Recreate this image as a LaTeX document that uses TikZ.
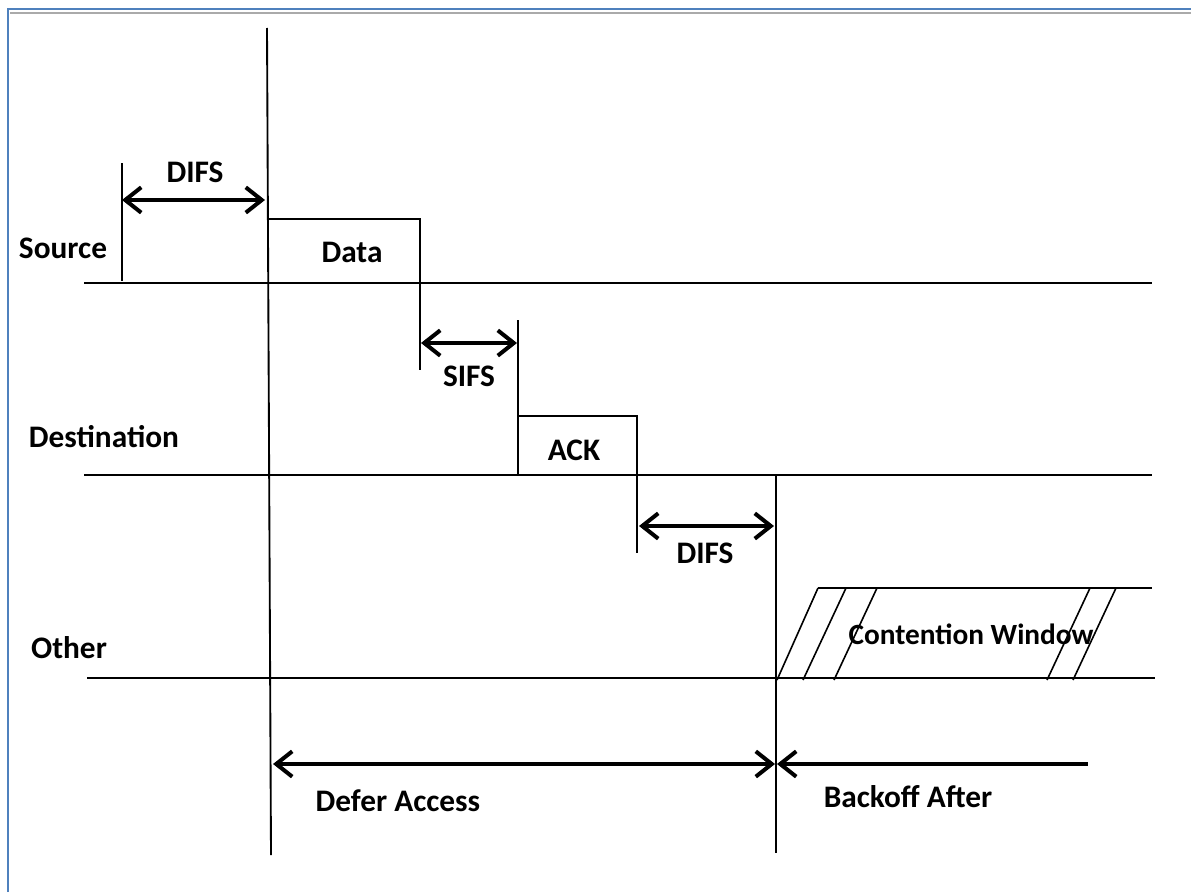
\documentclass[tikz,border=0pt]{standalone}
\usepackage{fontspec}
\setmainfont{Carlito}
\usetikzlibrary{arrows.meta}
\definecolor{frameblue}{RGB}{79,129,189}
\definecolor{framegray}{RGB}{170,170,170}
\begin{document}
\begin{tikzpicture}[x=0.75pt,y=-0.75pt,
  lbl/.style={font=\fontsize{23.5}{28}\selectfont\bfseries, anchor=base, inner sep=0pt},
  small lbl/.style={lbl, font=\fontsize{22}{26}\selectfont\bfseries},
  axis/.style={line width=1.9pt},
  tick/.style={line width=1.4pt},
  boxline/.style={line width=1.2pt},
  barb/.tip={Straight Barb[length=12pt,width=19pt]},
  span/.style={line width=3pt, barb-barb},
  spanleft/.style={line width=3pt, barb-},
]
\useasboundingbox (0,0) rectangle (1191,892);

% page frame
\draw[frameblue, line width=2pt] (8,892) -- (8,9) -- (1191,9);
\draw[framegray, line width=1.6pt] (10,13) -- (1191,13);

% time axes of the three stations
\coordinate (srcL) at (84,283);  \coordinate (srcR) at (1152,283);
\coordinate (dstL) at (84,475);  \coordinate (dstR) at (1152,475);
\coordinate (othL) at (87,678);  \coordinate (othR) at (1155,678);
\draw[axis] (srcL) -- (srcR);
\draw[axis] (dstL) -- (dstR);
\draw[axis] (othL) -- (othR);

% main time markers
\coordinate (tTop) at (267,28);   \coordinate (tBot) at (271,855);
\coordinate (cTop) at (776,475);  \coordinate (cBot) at (776,853);
\draw[tick] (tTop) -- (tBot);
\draw[tick] (cTop) -- (cBot);

% source: DIFS then Data frame
\coordinate (d1Top) at (122,163); \coordinate (d1Bot) at (122,281);
\draw[tick] (d1Top) -- (d1Bot);
\coordinate (d1a) at (122,200); \coordinate (d1b) at (265,200);
\draw[span] (d1a) -- (d1b);
\coordinate (dataL) at (267,219); \coordinate (dataR) at (420,219); \coordinate (dataEnd) at (420,370);
\draw[boxline] (dataL) -- (dataR) -- (dataEnd);

% SIFS then ACK frame
\coordinate (ackTop) at (518,320); \coordinate (ackBot) at (518,475);
\draw[tick] (ackTop) -- (ackBot);
\coordinate (s1a) at (421,343); \coordinate (s1b) at (517,343);
\draw[span] (s1a) -- (s1b);
\coordinate (ackL) at (518,416); \coordinate (ackR) at (637,416); \coordinate (ackEnd) at (637,553);
\draw[boxline] (ackL) -- (ackR) -- (ackEnd);

% DIFS after ACK
\coordinate (d2a) at (639,526); \coordinate (d2b) at (774,526);
\draw[span] (d2a) -- (d2b);

% contention window slots
\coordinate (cwL) at (818,588); \coordinate (cwR) at (1152,588);
\draw[boxline] (cwL) -- (cwR);
\foreach \xb/\xt in {777/818, 803/846, 834/877, 1047/1090, 1073/1116}{
  \draw[boxline] (\xb,680) -- (\xt,588);
}

% defer and backoff spans
\coordinate (dfa) at (273,764); \coordinate (dfb) at (775,764);
\draw[span] (dfa) -- (dfb);
\coordinate (boEnd) at (1088,764); \coordinate (boTip) at (777,764);
\draw[spanleft] (boTip) -- (boEnd);

% labels
\node[lbl] (lSource) at (63,258) {Source};
\node[lbl] (lDest) at (104,447) {Destination};
\node[lbl] (lOther) at (69,658) {Other};
\node[lbl] (lDifs1) at (195,182) {DIFS};
\node[lbl] (lData) at (352,262) {Data};
\node[lbl] (lSifs) at (469,386) {SIFS};
\node[lbl] (lAck) at (574,460) {ACK};
\node[lbl] (lDifs2) at (705,563) {DIFS};
\node[small lbl] (lCw) at (971,644) {Contention Window};
\node[lbl] (lDefer) at (398,811) {Defer Access};
\node[lbl] (lBackoff) at (908,807) {Backoff After};
\end{tikzpicture}
\end{document}
